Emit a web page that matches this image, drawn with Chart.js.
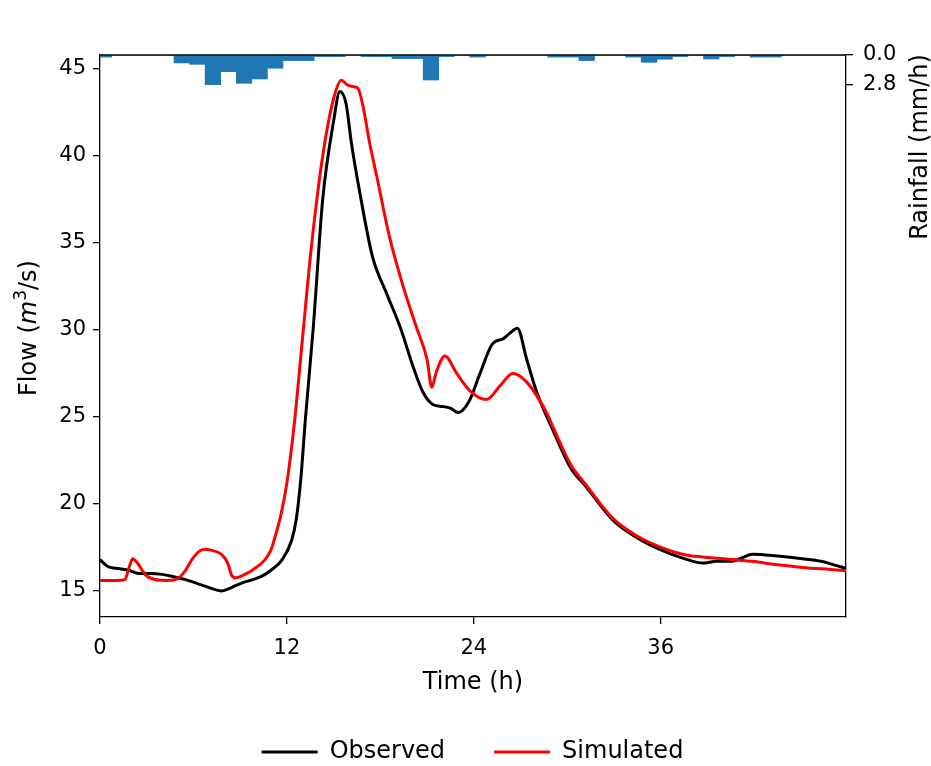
<!DOCTYPE html>
<html>
<head>
<meta charset="utf-8">
<script src="https://cdn.jsdelivr.net/npm/chart.js@4.4.1/dist/chart.umd.min.js"></script>
<style>
  html, body { margin: 0; padding: 0; background: #fff; }
  #wrap { width: 931px; height: 766px; }
</style>
</head>
<body>
<div id="wrap"><canvas id="flowChart"></canvas></div>
<script>
// hydrograph - observed vs simulated flow, hourly rainfall hanging from the top
const obsTime = [0, 0.5, 1, 1.8, 2.5, 3.2, 4, 4.8, 5.5, 6.5, 7.3, 7.8, 8.2, 8.7, 9.1, 9.8, 10.4, 11, 11.7, 12.3,
  12.6, 12.9, 13.2, 13.7, 14.3, 15.0, 15.4, 15.8, 16.15, 16.7, 17.5, 18.4, 19.3, 20.1, 20.75, 21.4, 22.0, 22.5,
  23.0, 23.7, 24.4, 25.2, 25.9, 26.3, 26.8, 27.4, 28.05, 29.1, 30.2, 31.2, 32.9, 34.4, 35.9, 37.7, 38.7, 39.6,
  40.6, 41.2, 41.9, 43.5, 45.1, 46.3, 47.3, 47.9];
const obsFlow = [16.8, 16.4, 16.3, 16.2, 16.0, 16.0, 15.95, 15.8, 15.65, 15.35, 15.1, 15.0, 15.1, 15.3, 15.45,
  15.65, 15.85, 16.2, 16.8, 17.9, 19.1, 21.5, 25.0, 30.2, 37.5, 42.0, 43.7, 43.0, 40.7, 37.8, 34.2, 32.1, 30.1,
  27.9, 26.4, 25.7, 25.6, 25.5, 25.25, 25.9, 27.5, 29.2, 29.5, 29.8, 30.1, 28.3, 26.4, 24.2, 22.1, 21.0, 19.1,
  18.1, 17.4, 16.8, 16.6, 16.7, 16.7, 16.9, 17.1, 17.0, 16.85, 16.7, 16.45, 16.3];

const simTime = [0, 1.0, 1.6, 1.85, 2.1, 2.4, 2.9, 3.5, 4.3, 5.0, 5.5, 5.9, 6.4, 6.8, 7.3, 7.8, 8.2, 8.45, 8.7,
  9.2, 9.8, 10.6, 11.0, 11.3, 11.6, 12.0, 12.5, 13.0, 13.6, 14.3, 15.0, 15.5, 15.85, 16.15, 16.55, 16.9, 17.3,
  17.8, 18.6, 19.5, 20.3, 21.0, 21.3, 21.6, 22.15, 22.9, 23.75, 24.8, 25.7, 26.5, 27.4, 28.7, 29.1, 30.2, 31.2,
  32.9, 34.4, 35.9, 37.7, 38.7, 40.6, 41.9, 43.5, 45.1, 47.3, 47.9];
const simFlow = [15.6, 15.6, 15.65, 16.3, 16.85, 16.6, 15.95, 15.65, 15.6, 15.7, 16.2, 16.8, 17.3, 17.4, 17.3,
  17.1, 16.6, 15.9, 15.75, 15.9, 16.2, 16.8, 17.4, 18.3, 19.3, 21.2, 24.8, 29.5, 35.0, 40.0, 43.3, 44.35, 44.1,
  44.0, 43.9, 42.8, 40.8, 38.7, 35.3, 32.4, 30.2, 28.3, 26.7, 27.6, 28.5, 27.5, 26.5, 26.0, 26.8, 27.5, 27.0,
  25.2, 24.4, 22.3, 21.1, 19.2, 18.2, 17.55, 17.05, 16.95, 16.8, 16.7, 16.5, 16.35, 16.2, 16.15];

// rainfall, one bar per hour (centre of each bar)
const rainHour = [0.25, 1.25, 2.25, 3.25, 4.25, 5.25, 6.25, 7.25, 8.25, 9.25, 10.25, 11.25, 12.25, 13.25, 14.25,
  15.25, 16.25, 17.25, 18.25, 19.25, 20.25, 21.25, 22.25, 23.25, 24.25, 25.25, 26.25, 27.25, 28.25, 29.25, 30.25,
  31.25, 32.25, 33.25, 34.25, 35.25, 36.25, 37.25, 38.25, 39.25, 40.25, 41.25, 42.25, 43.25, 44.25, 45.25, 46.25,
  47.25];
const rainValue = [0.2, 0, 0, 0, 0, 0.75, 0.88, 2.8, 1.57, 2.67, 2.26, 1.25, 0.53, 0.53, 0.15, 0.15, 0, 0.15, 0.15,
  0.34, 0.34, 2.36, 0.15, 0, 0.2, 0, 0, 0, 0, 0.2, 0.2, 0.53, 0, 0, 0.2, 0.69, 0.4, 0.15, 0, 0.38, 0.15, 0, 0.2,
  0.2, 0, 0, 0, 0];

const flowTicks = [15, 20, 25, 30, 35, 40, 45];
const timeTicks = [0, 12, 24, 36];
const rainTicks = [0, 2.8];

const FONT = "'DejaVu Sans', sans-serif";
const pts = (xs, ys) => xs.map((x, i) => ({ x: x, y: ys[i] }));
const fixTicks = vals => scale => { scale.ticks = vals.map(v => ({ value: v })); };

// draws a run of text pieces [text, font, dy] centred on 0
function drawPieces(ctx, pieces) {
  const widths = pieces.map(p => { ctx.font = p[1]; return ctx.measureText(p[0]).width; });
  let x = -widths.reduce((s, w) => s + w, 0) / 2;
  pieces.forEach((p, i) => {
    ctx.font = p[1];
    ctx.fillText(p[0], x, p[2] || 0);
    x += widths[i];
  });
}

// top spine, axis labels that read bottom-to-top, legend under the axis
const extras = {
  id: 'extras',
  afterDatasetsDraw(chart) {
    const { ctx, chartArea: a } = chart;
    ctx.save();
    ctx.strokeStyle = '#000';
    ctx.lineWidth = 1.3;
    ctx.beginPath();
    ctx.moveTo(a.left, a.top);
    ctx.lineTo(a.right, a.top);
    ctx.stroke();
    ctx.restore();
  },
  afterDraw(chart) {
    const ctx = chart.ctx;
    ctx.save();
    ctx.fillStyle = '#000';
    ctx.textAlign = 'left';
    ctx.textBaseline = 'middle';

    ctx.save();
    ctx.translate(921, 147);
    ctx.rotate(-Math.PI / 2);
    drawPieces(ctx, [['Rainfall (mm/h)', '24px ' + FONT]]);
    ctx.restore();

    ctx.save();
    ctx.translate(30, 328);
    ctx.rotate(-Math.PI / 2);
    drawPieces(ctx, [
      ['Flow (', '24px ' + FONT],
      ['m', 'italic 24px ' + FONT],
      ['3', '17px ' + FONT, -8],
      ['/s)', '24px ' + FONT]
    ]);
    ctx.restore();

    // legend
    const items = chart.data.datasets.filter(d => d.type === 'line');
    ctx.font = '24px ' + FONT;
    const lineLen = 56, gap = 12, between = 49;
    const widths = items.map(d => lineLen + gap + ctx.measureText(d.label).width);
    const total = widths.reduce((s, w) => s + w, 0) + between * (items.length - 1);
    let x = (chart.width - total) / 2 + 7;
    const y = 752;
    items.forEach((d, i) => {
      ctx.strokeStyle = d.borderColor;
      ctx.lineWidth = 3;
      ctx.beginPath();
      ctx.moveTo(x, y);
      ctx.lineTo(x + lineLen, y);
      ctx.stroke();
      ctx.fillText(d.label, x + lineLen + gap, y);
      x += widths[i] + between;
    });
    ctx.restore();
  }
};

const tickFont = { family: FONT, size: 21 };
const axisGrid = { drawOnChartArea: false, drawTicks: true, tickLength: 7, color: '#000', lineWidth: 1.3, offset: false };
const axisBorder = { display: true, color: '#000', width: 1.3 };

new Chart(document.getElementById('flowChart'), {
  type: 'line',
  data: {
    datasets: [
      {
        type: 'line', label: 'Observed', data: pts(obsTime, obsFlow),
        borderColor: '#000000', borderWidth: 3, pointRadius: 0,
        cubicInterpolationMode: 'monotone', yAxisID: 'y', order: 2
      },
      {
        type: 'line', label: 'Simulated', data: pts(simTime, simFlow),
        borderColor: '#ff0000', borderWidth: 3, pointRadius: 0,
        cubicInterpolationMode: 'monotone', yAxisID: 'y', order: 1
      },
      {
        type: 'bar', label: 'Rainfall', data: pts(rainHour, rainValue),
        backgroundColor: '#1f77b4', borderWidth: 0,
        barPercentage: 1, categoryPercentage: 1, yAxisID: 'y2', order: 3
      }
    ]
  },
  options: {
    responsive: true,
    maintainAspectRatio: false,
    animation: false,
    layout: { padding: { top: 55, bottom: 59, left: 0, right: 0 } },
    plugins: { legend: { display: false }, tooltip: { enabled: false } },
    scales: {
      x: {
        type: 'linear', position: 'bottom', min: 0, max: 47.9, offset: false,
        afterBuildTicks: fixTicks(timeTicks),
        afterFit: s => { s.height = 90; },
        grid: axisGrid,
        border: axisBorder,
        ticks: { font: tickFont, color: '#000', padding: 12, maxRotation: 0 },
        title: { display: true, text: 'Time (h)', font: { family: FONT, size: 24 }, color: '#000', padding: { top: 0, bottom: 10 } }
      },
      y: {
        type: 'linear', position: 'left', min: 13.5, max: 45.8,
        afterBuildTicks: fixTicks(flowTicks),
        afterFit: s => { s.width = 100; },
        grid: axisGrid,
        border: axisBorder,
        ticks: { font: tickFont, color: '#000', padding: 7 }
      },
      y2: {
        type: 'linear', position: 'right', reverse: true, min: 0, max: 53,
        afterBuildTicks: fixTicks(rainTicks),
        afterFit: s => { s.width = 85; },
        grid: axisGrid,
        border: axisBorder,
        ticks: { font: tickFont, color: '#000', padding: 10, callback: v => v.toFixed(1) }
      }
    }
  },
  plugins: [extras]
});
</script>
</body>
</html>
